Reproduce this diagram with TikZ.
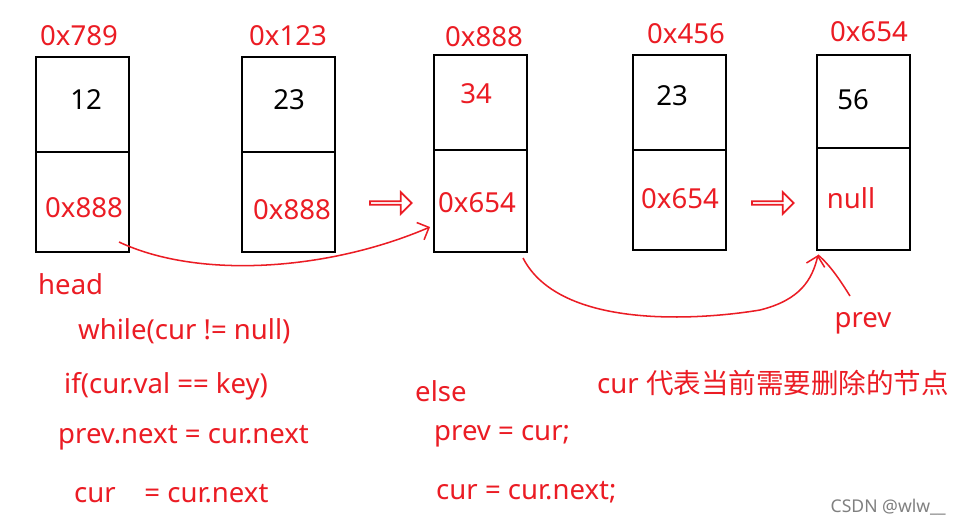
\documentclass[tikz,border=0pt]{standalone}
\usepackage{fontspec}
\setmainfont{Noto Sans}
\newfontfamily\cjk{Noto Sans CJK SC}
\usetikzlibrary{shapes.arrows,arrows.meta}
\definecolor{rd}{RGB}{235,28,36}
\begin{document}
\begin{tikzpicture}[x=0.03cm,y=-0.03cm,
  cell/.style={draw=black,line width=1.8pt},
  rt/.style={text=rd,font=\fontsize{23.5}{23.5}\selectfont,inner sep=0pt},
  bt/.style={text=black,font=\fontsize{23.5}{23.5}\selectfont,inner sep=0pt},
  fat/.style={single arrow,draw=rd,line width=1.5pt,minimum height=1.25cm,minimum width=0.65cm,single arrow head extend=4pt,inner sep=0pt},
  link/.style={draw=rd,line width=1.3pt}]
\useasboundingbox (0,0) rectangle (963,526);
\fill[white] (0,0) rectangle (963,526);
% boxes
\foreach \n/\x/\t/\d/\b in {a/36/57/152/252,b/242/57/152/252,c/434/55/150/252,d/633/55/150/250,e/817/55/148/250}{
  \draw[cell] (\x,\t) rectangle (\x+93,\b);
  \draw[cell] (\x,\d) -- (\x+93,\d);
  \coordinate (\n) at (\x,\t);
}
\node[rt] (l1) at (79,36) {0x789};
\node[rt] (l2) at (288,36) {0x123};
\node[rt] (l3) at (484,37) {0x888};
\node[rt] (l4) at (686,34) {0x456};
\node[rt] (l5) at (869,32) {0x654};
\node[bt] (v1) at (86,100) {12};
\node[bt] (v2) at (289,100) {23};
\node[rt] (v3) at (476,94) {34};
\node[bt] (v4) at (672,96) {23};
\node[bt] (v5) at (853,100) {56};
\node[rt] (p1) at (84,208) {0x888};
\node[rt] (p2) at (292,210) {0x888};
\node[rt] (p3) at (477,203) {0x654};
\node[rt] (p4) at (680,199) {0x654};
\node[rt] (p5) at (851,198) {null};
\node[fat] (f1) at (390,203) {};
\node[fat] (f2) at (772,203) {};
\coordinate (s1) at (119,242);
\coordinate (t1) at (430,227);
\coordinate (s2) at (523,258);
\coordinate (t2) at (818,255);
\draw[link,-{Straight Barb[length=8pt]}] (s1) .. controls (200,280) and (330,270) .. (t1);
\draw[link,-{Straight Barb[length=8pt]}] (s2) .. controls (560,330) and (700,320) .. (760,310) .. controls (800,300) and (812,280) .. (t2);
\node[rt] (prev) at (863,323) {prev};
\draw[link] (850,296) .. controls (840,280) and (830,265) .. (t2);
\node[rt,anchor=west] (head) at (38,284) {head};
\node[rt,anchor=west] (w) at (78,331) {while(cur != null)};
\node[rt,anchor=west] (i) at (64,386) {if(cur.val == key)};
\node[rt,anchor=west] (pn) at (58,438) {prev.next = cur.next};
\node[rt,anchor=west] (cn) at (74,494) {cur\ \ \ \ = cur.next};
\node[rt,anchor=west] (el) at (415,391) {else};
\node[rt,anchor=west] (pc) at (434,436) {prev = cur;};
\node[rt,anchor=west] (cc) at (436,492) {cur = cur.next;};
\node[rt,anchor=west] (cm) at (597,383) {cur {\cjk 代表当前需要删除的节点}};
\node[text=gray,font=\fontsize{15}{15}\selectfont,anchor=east,inner sep=0pt] (wm) at (946,507) {CSDN @wlw\_\_};
\end{tikzpicture}
\end{document}
